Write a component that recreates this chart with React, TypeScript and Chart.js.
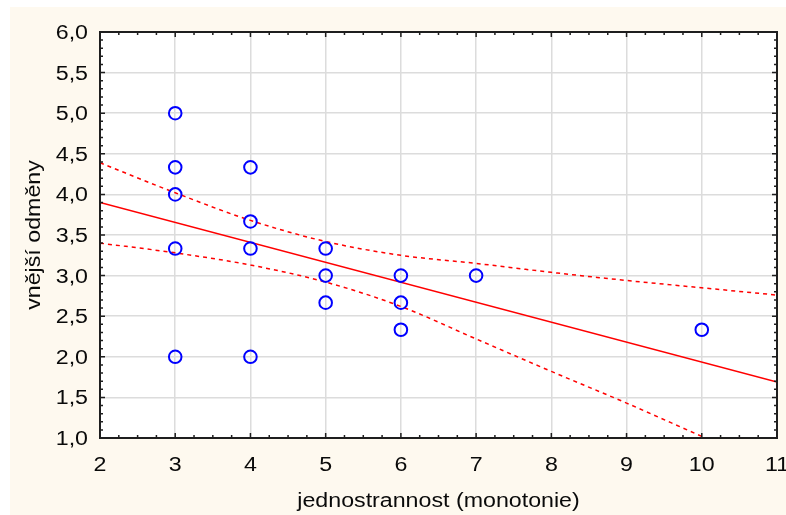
import React, { useEffect, useRef } from 'react';
import { Chart, registerables } from 'chart.js';

Chart.register(...registerables);

// ---- data ----
const pointX = [3, 3, 3, 3, 3, 4, 4, 4, 4, 5, 5, 5, 6, 6, 6, 7, 10];
const pointY = [5.0, 4.333, 4.0, 3.333, 2.0, 4.333, 3.667, 3.333, 2.0, 3.333, 3.0, 2.667, 3.0, 2.667, 2.333, 3.0, 2.333];

const fitX = [2, 11];
const fitY = [3.9, 1.69];

const bandX = [2, 3, 4, 5, 6, 7, 8, 9, 10, 11];
const bandUpper = [4.39, 4.02, 3.68, 3.42, 3.25, 3.15, 3.04, 2.94, 2.85, 2.76];
const bandLower = [3.4, 3.28, 3.13, 2.92, 2.62, 2.22, 1.82, 1.43, 1.02, 0.62];

const xTicks = [2, 3, 4, 5, 6, 7, 8, 9, 10, 11];
const yTicks = [1.0, 1.5, 2.0, 2.5, 3.0, 3.5, 4.0, 4.5, 5.0, 5.5, 6.0];
const xMinorPerMajor = 3;
const yMinorPerMajor = 4;

const xTitle = 'jednostrannost (monotonie)';
const yTitle = 'vnější odměny';

// ---- styles ----
const FONT = '19.5px "Liberation Sans", Arial, sans-serif';
const TEXT_STRETCH = 1.19;
const TEXT_COLOR = '#0A0A0A';
const PAGE_BG = '#FEF9EF';

const toXY = (xs: number[], ys: number[]) => xs.map((x, i) => ({ x, y: ys[i] }));
const fmtY = (v: number) => v.toFixed(1).replace('.', ',');

const framePlugin = {
  id: 'frame',
  beforeDraw(chart: any) {
    const { ctx, chartArea: a } = chart;
    ctx.save();
    ctx.fillStyle = PAGE_BG;
    ctx.fillRect(10, 7, chart.width - 10, chart.height - 7);
    ctx.fillStyle = '#FFFFFF';
    ctx.fillRect(a.left, a.top, a.right - a.left, a.bottom - a.top);
    ctx.restore();
  },
  afterDraw(chart: any) {
    const { ctx, chartArea: a, scales } = chart;
    const xs = scales.x;
    const ys = scales.y;
    ctx.save();
    ctx.strokeStyle = '#1E1E1E';
    ctx.lineWidth = 1.5;
    const MAJ = 5;
    const MIN = 3;
    ctx.beginPath();
    xTicks.forEach((t, i) => {
      const px = xs.getPixelForValue(t);
      ctx.moveTo(px, a.bottom); ctx.lineTo(px, a.bottom - MAJ);
      ctx.moveTo(px, a.top); ctx.lineTo(px, a.top + MAJ);
      if (i < xTicks.length - 1) {
        const next = xTicks[i + 1];
        for (let k = 1; k <= xMinorPerMajor; k++) {
          const v = t + ((next - t) * k) / (xMinorPerMajor + 1);
          const mp = xs.getPixelForValue(v);
          ctx.moveTo(mp, a.bottom); ctx.lineTo(mp, a.bottom - MIN);
          ctx.moveTo(mp, a.top); ctx.lineTo(mp, a.top + MIN);
        }
      }
    });
    yTicks.forEach((t, i) => {
      const py = ys.getPixelForValue(t);
      ctx.moveTo(a.left, py); ctx.lineTo(a.left + MAJ, py);
      ctx.moveTo(a.right, py); ctx.lineTo(a.right - MAJ, py);
      if (i < yTicks.length - 1) {
        const next = yTicks[i + 1];
        for (let k = 1; k <= yMinorPerMajor; k++) {
          const v = t + ((next - t) * k) / (yMinorPerMajor + 1);
          const mp = ys.getPixelForValue(v);
          ctx.moveTo(a.left, mp); ctx.lineTo(a.left + MIN, mp);
          ctx.moveTo(a.right, mp); ctx.lineTo(a.right - MIN, mp);
        }
      }
    });
    ctx.stroke();
    ctx.lineWidth = 2;
    ctx.strokeRect(a.left, a.top, a.right - a.left, a.bottom - a.top);

    ctx.fillStyle = TEXT_COLOR;
    ctx.font = FONT;
    ctx.textBaseline = 'alphabetic';
    ctx.textAlign = 'right';
    yTicks.forEach((t) => {
      const py = ys.getPixelForValue(t);
      ctx.save();
      ctx.translate(a.left - 12, py + 7);
      ctx.scale(TEXT_STRETCH, 1);
      ctx.fillText(fmtY(t), 0, 0);
      ctx.restore();
    });
    ctx.textAlign = 'center';
    xTicks.forEach((t) => {
      const px = xs.getPixelForValue(t);
      ctx.save();
      ctx.translate(px, a.bottom + 32.5);
      ctx.scale(TEXT_STRETCH, 1);
      ctx.fillText(String(t), 0, 0);
      ctx.restore();
    });
    ctx.save();
    ctx.translate((a.left + a.right) / 2, a.bottom + 69);
    ctx.scale(TEXT_STRETCH, 1);
    ctx.fillText(xTitle, 0, 0);
    ctx.restore();
    ctx.save();
    ctx.translate(a.left - 60, (a.top + a.bottom) / 2);
    ctx.rotate(-Math.PI / 2);
    ctx.scale(TEXT_STRETCH, 1);
    ctx.fillText(yTitle, 0, 0);
    ctx.restore();

    ctx.restore();
  },
};

export default function App() {
  const canvasRef = useRef<HTMLCanvasElement | null>(null);

  useEffect(() => {
    const canvas = canvasRef.current;
    if (!canvas) return;
    const dashed = {
      borderColor: '#FF0000',
      borderWidth: 1.5,
      borderDash: [4, 4],
      pointRadius: 0,
      showLine: true,
      fill: false,
      cubicInterpolationMode: 'monotone',
      clip: 0,
    };
    const chart = new Chart(canvas, {
      type: 'scatter',
      data: {
        datasets: [
          {
            data: toXY(pointX, pointY),
            pointStyle: 'circle',
            pointRadius: 6.3,
            pointBorderWidth: 2,
            borderColor: '#0000FF',
            backgroundColor: 'rgba(0,0,0,0)',
            pointBackgroundColor: 'rgba(0,0,0,0)',
            pointBorderColor: '#0000FF',
            showLine: false,
          },
          {
            data: toXY(fitX, fitY),
            borderColor: '#FF0000',
            borderWidth: 1.6,
            pointRadius: 0,
            showLine: true,
            fill: false,
            clip: 0,
          },
          { data: toXY(bandX, bandUpper), ...dashed },
          { data: toXY(bandX, bandLower), ...dashed },
        ] as any,
      },
      options: {
        responsive: false,
        animation: false,
        devicePixelRatio: 1,
        layout: { padding: { left: 0, top: 32, right: 9, bottom: 0 } },
        plugins: { legend: { display: false }, tooltip: { enabled: false } },
        events: [],
        scales: {
          x: {
            type: 'linear',
            min: 2,
            max: 11,
            ticks: { display: false, stepSize: 1 },
            grid: { color: '#DCDCDC', lineWidth: 1.5, drawTicks: false },
            border: { display: false },
            afterFit: (s: any) => { s.height = 77; },
          },
          y: {
            type: 'linear',
            min: 1,
            max: 6,
            ticks: { display: false, stepSize: 0.5 },
            grid: { color: '#DCDCDC', lineWidth: 1.5, drawTicks: false },
            border: { display: false },
            afterFit: (s: any) => { s.width = 100; },
          },
        },
      } as any,
      plugins: [framePlugin],
    });
    return () => chart.destroy();
  }, []);

  return (
    <div style={{ position: 'fixed', left: 0, top: 0, width: 786, height: 515 }}>
      <canvas ref={canvasRef} width={786} height={515} />
    </div>
  );
}
